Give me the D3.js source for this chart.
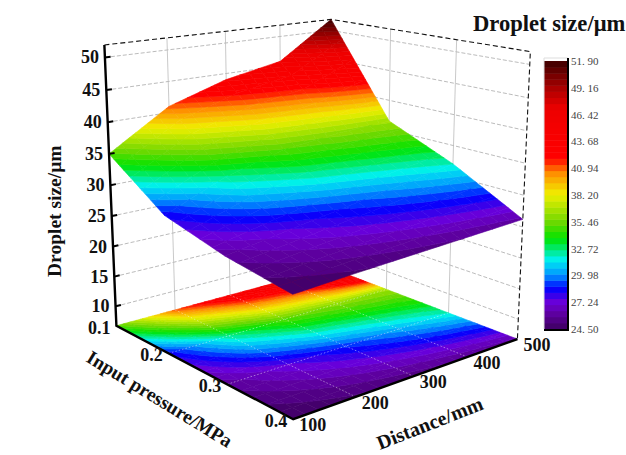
<!DOCTYPE html>
<html>
<head>
<meta charset="utf-8">
<script src="https://cdn.jsdelivr.net/npm/d3@7"></script>
<style>
    html, body { margin: 0; background: #fff; }
    svg { display: block; }
    text { font-family: "Liberation Serif", serif; font-weight: bold; fill: #111; }
</style>
</head>
<body>
<div id="chart"></div>
<script>
// chart values
const distances = [100, 200, 300, 400, 500];
const pressures = [0.1, 0.2, 0.3, 0.4];
const sizeAt01 = [35, 41, 44, 45.8, 51.9];
const sizeAt02 = [28.5, 32.5, 35, 36, 36.5];
const sizeAt03 = [26, 27.5, 29, 30.5, 32];
const sizeAt04 = [24.5, 25, 25.4, 25.8, 26.2];
const sizeRows = [sizeAt01, sizeAt02, sizeAt03, sizeAt04];
const sizeTicks = [10, 15, 20, 25, 30, 35, 40, 45, 50];
const sizeRange = [6.7, 51.9];
const barTicks = [24.5, 27.24, 29.98, 32.72, 35.46, 38.2, 40.94, 43.68, 46.42, 49.16, 51.9];
const colorStops = [24.5, 26, 27.24, 28.7, 30, 31.6, 33.75, 35.5, 38.3, 40.5, 42, 47, 49, 51.9];
const colorValues = ['#3e0060', '#5c009c', '#6c00d8', '#0000ff', '#0090ff', '#00f0f0', '#00e400', '#70d800', '#f0f000', '#ff8c00', '#ff0000', '#ee0000', '#b00000', '#3c0000'];

const svgWidth = 626;
const svgHeight = 455;

const svg = d3.select('#chart').append('svg')
    .attr('width', svgWidth)
    .attr('height', svgHeight);

// box coordinates, 0 to 1 on each side
const xScale = d3.scaleLinear().domain([100, 500]).range([0, 1]);
const yScale = d3.scaleLinear().domain([0.1, 0.4]).range([0, 1]);
const zScale = d3.scaleLinear().domain(sizeRange).range([0, 1]);

// the box is in perspective: fit a camera to where its corners sit in the picture
// [x, y, z, px, py]
const cameraFit = [
    [0, 0, 0, 116, 325], [0, 1, 0, 293, 420], [1, 1, 0, 517, 338], [1, 0, 0, 331, 269],
    [0, 0, 1, 105, 45], [1, 0, 1, 330, 19], [1, 1, 1, 531, 52]
];

function solveCamera(rows) {
    const n = 11;
    const A = d3.range(n).map(() => new Array(n + 1).fill(0));
    const addRow = (r, t) => {
        for (let i = 0; i < n; i++) {
            for (let j = 0; j < n; j++) A[i][j] += r[i] * r[j];
            A[i][n] += r[i] * t;
        }
    };
    rows.forEach(([x, y, z, u, v]) => {
        addRow([1, x, y, z, 0, 0, 0, 0, -u * x, -u * y, -u * z], u);
        addRow([0, 0, 0, 0, 1, x, y, z, -v * x, -v * y, -v * z], v);
    });
    for (let i = 0; i < n; i++) {
        let best = i;
        for (let k = i + 1; k < n; k++) if (Math.abs(A[k][i]) > Math.abs(A[best][i])) best = k;
        [A[i], A[best]] = [A[best], A[i]];
        for (let k = 0; k < n; k++) {
            if (k === i) continue;
            const f = A[k][i] / A[i][i];
            for (let j = i; j <= n; j++) A[k][j] -= f * A[i][j];
        }
    }
    return A.map((row, i) => row[n] / row[i]);
}

const cam = solveCamera(cameraFit);

function project(x, y, z) {
    const w = 1 + cam[8] * x + cam[9] * y + cam[10] * z;
    return [
        (cam[0] + cam[1] * x + cam[2] * y + cam[3] * z) / w,
        (cam[4] + cam[5] * x + cam[6] * y + cam[7] * z) / w
    ];
}

// same as project but takes chart values
const place = (d, p, s) => project(xScale(d), yScale(p), zScale(s));
const floorSize = sizeRange[0];
const topSize = sizeRange[1];

// colours come in flat bands like the original contour fill
const bandCount = 44;
const smoothColor = d3.scaleLinear().domain(colorStops).range(colorValues);
const bandColor = d3.scaleQuantize()
    .domain([24.5, 51.9])
    .range(d3.range(bandCount).map(i => smoothColor(24.5 + (i + 0.5) * 27.4 / bandCount)));

const line = d3.line();

// split every grid cell into patches, then cut each patch along the colour band limits
const steps = 5;

function cellPoint(r, c, t, s) {
    const size = d3.interpolate(
        d3.interpolate(sizeRows[r][c], sizeRows[r][c + 1])(s),
        d3.interpolate(sizeRows[r + 1][c], sizeRows[r + 1][c + 1])(s)
    )(t);
    return {
        d: distances[c] + s * (distances[c + 1] - distances[c]),
        pr: pressures[r] + t * (pressures[r + 1] - pressures[r]),
        size
    };
}

// keep the part of a polygon on one side of a size limit
function clipPoly(poly, limit, keepAbove) {
    const inside = q => keepAbove ? q.size >= limit : q.size <= limit;
    const out = [];
    poly.forEach((a, i) => {
        const b = poly[(i + 1) % poly.length];
        if (inside(a)) out.push(a);
        if (inside(a) !== inside(b)) {
            const k = (limit - a.size) / (b.size - a.size);
            out.push({ d: a.d + k * (b.d - a.d), pr: a.pr + k * (b.pr - a.pr), size: limit });
        }
    });
    return out;
}

const pieces = [];
for (let r = 0; r < pressures.length - 1; r++) {
    for (let c = distances.length - 2; c >= 0; c--) {
        for (let i = 0; i < steps; i++) {
            for (let j = steps - 1; j >= 0; j--) {
                const corners = [[0, 0], [1, 0], [1, 1], [0, 1]]
                    .map(([a, b]) => cellPoint(r, c, (i + b) / steps, (j + a) / steps));
                bandColor.range().forEach(color => {
                    const [lo, hi] = bandColor.invertExtent(color);
                    const poly = clipPoly(clipPoly(corners, lo, true), hi, false);
                    if (poly.length > 2) pieces.push({ poly, color });
                });
            }
        }
    }
}

function drawPieces(cls, heightOf) {
    svg.append('g').attr('class', cls)
        .selectAll('path')
        .data(pieces)
        .join('path')
        .attr('d', p => line(p.poly.map(q => place(q.d, q.pr, heightOf(q.size)))) + 'Z')
        .attr('fill', p => p.color)
        .attr('stroke', p => p.color)
        .attr('stroke-width', 0.6);
}

// walls: grid first
const wallGrid = svg.append('g').attr('fill', 'none');

sizeTicks.forEach(s => {
    wallGrid.append('path')
        .attr('d', line([place(100, 0.1, s), place(500, 0.1, s), place(500, 0.4, s)]))
        .attr('stroke', '#aaa').attr('stroke-width', 0.8).attr('stroke-dasharray', '4,2');
});
[200, 300, 400].forEach(d => {
    wallGrid.append('path')
        .attr('d', line([place(d, 0.1, floorSize), place(d, 0.1, topSize)]))
        .attr('stroke', '#bbb').attr('stroke-width', 0.8);
});
[0.2, 0.3].forEach(p => {
    wallGrid.append('path')
        .attr('d', line([place(500, p, floorSize), place(500, p, topSize)]))
        .attr('stroke', '#bbb').attr('stroke-width', 0.8);
});

// dashed top of the box and far right edge
wallGrid.append('path')
    .attr('d', line([place(100, 0.1, topSize), place(500, 0.1, topSize), place(500, 0.4, topSize), place(500, 0.4, floorSize)]))
    .attr('stroke', '#111').attr('stroke-width', 1.1).attr('stroke-dasharray', '5,3');

// contour map on the floor
drawPieces('floor', () => floorSize);

const floorGrid = svg.append('g').attr('fill', 'none')
    .attr('stroke', '#fff').attr('stroke-width', 0.7).attr('stroke-dasharray', '1.5,2').attr('opacity', 0.6);
[200, 300, 400].forEach(d => {
    floorGrid.append('path').attr('d', line([place(d, 0.1, floorSize), place(d, 0.4, floorSize)]));
});
[0.2, 0.3].forEach(p => {
    floorGrid.append('path').attr('d', line([place(100, p, floorSize), place(500, p, floorSize)]));
});

// the surface itself
drawPieces('surface', s => s);

// box axes
const axes = svg.append('g').attr('fill', 'none').attr('stroke', '#000').attr('stroke-width', 2.4);
axes.append('path').attr('d', line([
    place(100, 0.1, topSize), place(100, 0.1, floorSize), place(100, 0.4, floorSize), place(500, 0.4, floorSize)
])).attr('stroke-linejoin', 'miter');

const tickLen = 0.022;
sizeTicks.forEach(s => {
    axes.append('path').attr('stroke-width', 2)
        .attr('d', line([place(100, 0.1, s), project(tickLen, 0, zScale(s))]));
    const [px, py] = place(100, 0.1, s);
    svg.append('text').attr('x', px - 6).attr('y', py + 6)
        .attr('text-anchor', 'end').attr('font-size', 18).text(s);
});
pressures.forEach(p => {
    const [px, py] = place(100, p, floorSize);
    svg.append('text').attr('x', px - 6).attr('y', py + 8)
        .attr('text-anchor', 'end').attr('font-size', 18).text(p.toFixed(1));
});
distances.forEach(d => {
    const [px, py] = place(d, 0.4, floorSize);
    svg.append('text').attr('x', px + 6).attr('y', py + 12)
        .attr('font-size', 18).text(d);
});

// axis titles
svg.append('text').attr('transform', 'translate(85,361) rotate(31.5)')
    .attr('font-size', 19.4).text('Input pressure/MPa');
svg.append('text').attr('transform', 'translate(61,277) rotate(-90)')
    .attr('font-size', 19.5).text('Droplet size/μm');
svg.append('text').attr('transform', 'translate(380,450) rotate(-21.5)')
    .attr('font-size', 20).text('Distance/mm');
svg.append('text').attr('x', 473).attr('y', 31)
    .attr('font-size', 22.6).text('Droplet size/μm');

// colour bar
const barScale = d3.scaleLinear().domain([24.5, 51.9]).range([329, 61]);
const barLeft = 544;
const barRight = 568;

svg.append('g').selectAll('rect')
    .data(bandColor.range())
    .join('rect')
    .attr('x', barLeft)
    .attr('width', barRight - barLeft)
    .attr('y', c => barScale(bandColor.invertExtent(c)[1]))
    .attr('height', c => barScale(bandColor.invertExtent(c)[0]) - barScale(bandColor.invertExtent(c)[1]) + 0.5)
    .attr('fill', c => c);

svg.append('path').attr('fill', 'none').attr('stroke', '#ddd').attr('stroke-width', 1)
    .attr('d', line([[barLeft, 329], [barLeft, 58], [barRight, 58]]));
svg.append('path').attr('fill', 'none').attr('stroke', '#000').attr('stroke-width', 2)
    .attr('d', line([[barLeft, 330], [barRight, 330], [barRight, 58]]));

const barAxis = d3.axisRight(barScale)
    .tickValues(barTicks)
    .tickSize(0)
    .tickPadding(3)
    .tickFormat(d => d3.format('.2f')(d).replace('.', '. '));

const barAxisGroup = svg.append('g')
    .attr('transform', `translate(${barRight},0)`)
    .call(barAxis);
barAxisGroup.select('.domain').remove();
barAxisGroup.selectAll('text')
    .style('font-family', '"Liberation Serif", serif')
    .style('font-weight', 'normal')
    .style('font-size', '11px')
    .style('fill', '#444');
</script>
</body>
</html>
